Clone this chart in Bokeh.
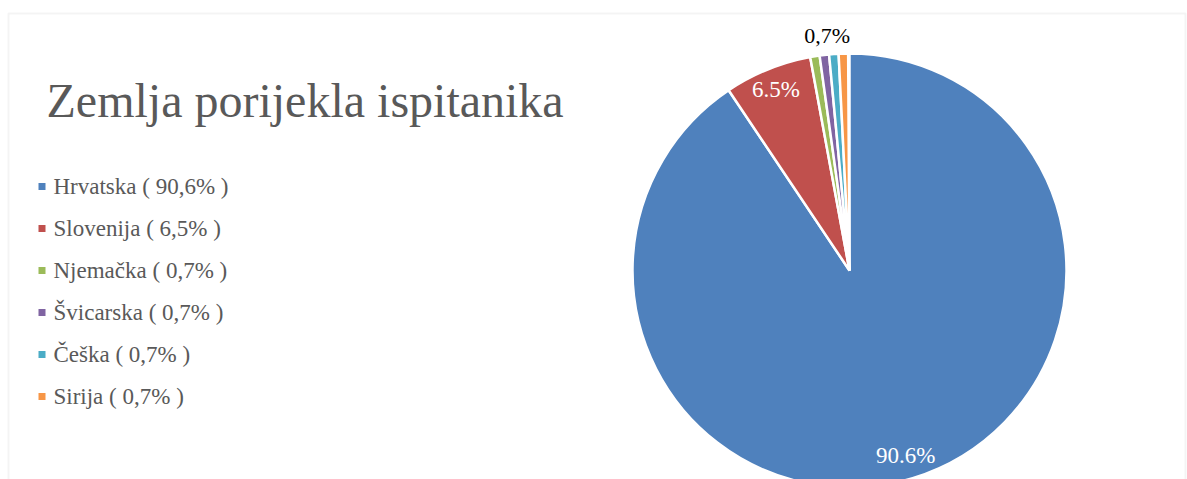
import math
from bokeh.plotting import figure
from bokeh.models import Range1d, BoxAnnotation, ColumnDataSource
from bokeh.core.properties import value
from bokeh.embed import file_html
from bokeh.resources import INLINE

# ---- data ----
countries = ["Hrvatska", "Slovenija", "Njemačka", "Švicarska", "Češka", "Sirija"]
percent = [90.6, 6.5, 0.7, 0.7, 0.7, 0.7]
legend_pct = ["90,6%", "6,5%", "0,7%", "0,7%", "0,7%", "0,7%"]
slice_labels = ["90.6%", "6.5%", "0,7%"]
colors = ["#4F81BD", "#C0504D", "#9BBB59", "#8064A2", "#4BACC6", "#F79646"]
title_text = "Zemlja porijekla ispitanika"

FONT = value("'Liberation Serif', 'Times New Roman', serif")

W, H = 1187, 479
p = figure(width=W, height=H, output_backend="svg", toolbar_location=None,
           x_range=Range1d(0, W), y_range=Range1d(0, H),
           min_border=0, min_border_left=0, min_border_right=0,
           min_border_top=0, min_border_bottom=0)
p.axis.visible = False
p.grid.visible = False
p.outline_line_color = None
p.background_fill_color = "white"
p.border_fill_color = "white"

def Y(page_y):
    return H - page_y

# chart border (bottom clipped off)
p.add_layout(BoxAnnotation(left=8, right=1185, top=Y(13), bottom=-50,
                           fill_alpha=0, line_color="#D9D9D9", line_width=2))

# ---- pie ----
cx, cy, r = 849, Y(270), 217
starts, ends, mids = [], [], []
a = math.pi / 2
for v in percent:
    sweep = 2 * math.pi * v / 100.0
    starts.append(a)
    ends.append(a - sweep)
    mids.append(a - sweep / 2)
    a -= sweep

src = ColumnDataSource(dict(start=starts, end=ends, color=colors))
p.wedge(x=cx, y=cy, radius=r, start_angle="start", end_angle="end",
        direction="clock", fill_color="color", line_color="white",
        line_width=2.5, source=src)

# slice labels
lab_x, lab_y = [], []
for i, rr in [(0, 0.89 * r), (1, 0.9 * r)]:
    lab_x.append(cx + rr * math.cos(mids[i]))
    lab_y.append(cy + rr * math.sin(mids[i]))
small_mid = (starts[2] + ends[5]) / 2
lab_x.append(cx + 1.09 * r * math.cos(small_mid))
lab_y.append(cy + 1.09 * r * math.sin(small_mid))
p.text(x=lab_x[:2], y=lab_y[:2], text=slice_labels[:2], text_color="white",
       text_font=FONT, text_font_size="23px",
       text_align="center", text_baseline="middle")
p.text(x=lab_x[2:], y=lab_y[2:], text=slice_labels[2:], text_color="black",
       text_font=FONT, text_font_size="22px",
       text_align="center", text_baseline="middle")

# ---- title ----
p.text(x=[46], y=[Y(100)], text=[title_text], text_color="#595959",
       text_font=FONT, text_font_size="48px",
       text_align="left", text_baseline="alphabetic")

# ---- legend ----
ly = [Y(186 + 42 * i) for i in range(len(countries))]
p.rect(x=[41.5] * len(countries), y=ly, width=7, height=7,
       width_units="screen", height_units="screen",
       fill_color=colors, line_color=None)
leg_txt = [f"{c} ( {s} )" for c, s in zip(countries, legend_pct)]
p.text(x=[53] * len(countries), y=ly, text=leg_txt, text_color="#595959",
       text_font=FONT, text_font_size="23px",
       text_align="left", text_baseline="middle")

open("out.html", "w").write(file_html(p, INLINE))
